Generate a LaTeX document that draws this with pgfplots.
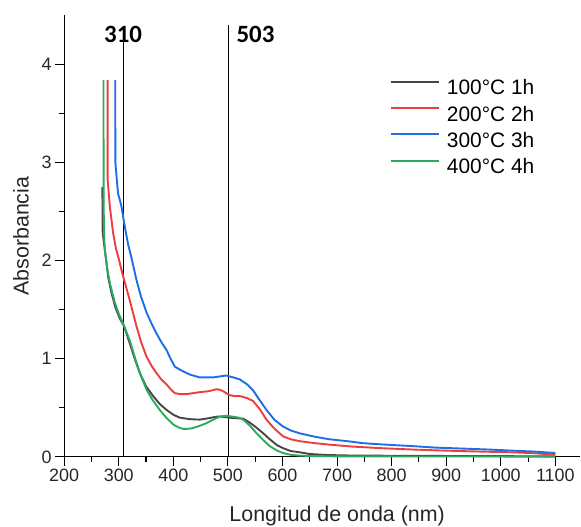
\documentclass[border=0pt]{standalone}
\usepackage{pgfplots}
\pgfplotsset{compat=1.18}
\usepackage{fontspec}
\setmainfont{Liberation Sans}
\newfontfamily\calib{Carlito}
\definecolor{cblack}{RGB}{70,70,70}
\definecolor{cred}{RGB}{240,60,60}
\definecolor{cblue}{RGB}{30,110,230}
\definecolor{cgreen}{RGB}{45,170,95}
\begin{document}
\begin{tikzpicture}
\begin{axis}[
  scale only axis, width=516.7bp, height=442bp,
  xmin=200, xmax=1146, ymin=0, ymax=4.5,
  axis x line*=bottom, axis y line*=left,
  axis line style={-, line width=1.1bp, black},
  xtick={200,300,...,1100}, ytick={0,1,2,3,4},
  minor x tick num=1, minor y tick num=1,
  tick align=outside, major tick length=9bp, minor tick length=5bp,
  tick style={line width=1.1bp, black},
  /pgf/number format/assume math mode=true,
  /pgf/number format/1000 sep={},
  tick label style={font=\fontsize{18}{18}\selectfont, text=black!85},
  xlabel={Longitud de onda (nm)}, ylabel={Absorbancia},
  label style={font=\fontsize{21.5}{21.5}\selectfont, text=black!85, inner sep=0pt},
  xlabel style={at={(axis description cs:0.5287,-0.1337)}, anchor=center},
  ylabel style={at={(axis description cs:-0.0838,0.50)}, anchor=center, rotate=0},
  clip=false,
  every axis plot/.append style={line width=1.9bp},
  legend style={at={(axis cs:796,3.86)}, anchor=north west, draw=none, fill=none,
    font=\fontsize{21}{24}\selectfont, row sep=8.3bp, inner sep=0pt,
    nodes={inner sep=1.5bp, text height=15bp, text depth=0bp}},
  legend cell align=left,
  legend image code/.code={\draw[#1] (0bp,5.5bp) -- (48bp,5.5bp); \path (54bp,5.5bp);},
]
\path (axis cs:82.4,-0.7096) rectangle (axis cs:1146,4.656);
\draw[black, line width=1.1bp] (axis cs:308,0) -- (axis cs:308,4.23);
\draw[black, line width=1.1bp] (axis cs:501,0) -- (axis cs:501,4.40);

\addplot[cblack] coordinates {
(270,2.75) (270.5,2.30) (272,2.22) (274.5,2.11) (277.6,1.97) (281,1.82) (286.8,1.67)
(294,1.52) (302,1.41) (310,1.33) (320,1.16) (330,0.99) (338.6,0.855) (350,0.72)
(363,0.62) (375,0.54) (387.5,0.48) (400,0.43) (412,0.40) (430,0.385) (448.5,0.38)
(465,0.395) (479,0.41) (490,0.41) (503,0.40) (515,0.395) (528,0.39) (540,0.35)
(552,0.30) (565,0.24) (576.7,0.18) (590,0.12) (601,0.09) (615,0.06) (632,0.047)
(650,0.03) (680,0.02) (720,0.015) (800,0.012) (900,0.01) (1000,0.008) (1100,0.006)};
\addlegendentry{100°C 1h}

\addplot[cred] coordinates {
(279.5,3.84) (279.7,2.82) (283.7,2.55) (289.7,2.28) (295,2.12) (299,2.04) (308,1.84)
(320,1.60) (332.6,1.33) (341,1.17) (351,1.02) (360,0.93) (369,0.855) (378,0.79)
(387.5,0.74) (395,0.69) (402.7,0.65) (413,0.64) (424,0.64) (436,0.65) (448.5,0.66)
(465,0.67) (479,0.69) (485,0.685) (491,0.67) (503,0.63) (512,0.62) (522,0.62)
(535,0.60) (546,0.57) (558,0.49) (570.6,0.38) (585,0.29) (601,0.21) (615,0.18)
(632,0.16) (660,0.14) (686,0.125) (730,0.105) (778,0.09) (840,0.075) (900,0.064)
(960,0.055) (1022,0.047) (1060,0.038) (1100,0.023)};
\addlegendentry{200°C 2h}

\addplot[cblue] coordinates {
(293.5,3.84) (293.8,3.0) (296,2.85) (298.8,2.68) (302,2.62) (305,2.55) (311,2.35)
(317,2.17) (323.3,2.03) (332.6,1.80) (341,1.63) (351,1.47) (360,1.36) (369,1.26)
(378,1.17) (387.5,1.09) (395,1.00) (402.7,0.92) (415,0.88) (430,0.84) (448.5,0.81)
(460,0.81) (473,0.81) (485,0.82) (497,0.83) (510,0.81) (521.8,0.79) (535,0.74)
(546,0.68) (558,0.58) (570.6,0.48) (585,0.38) (601,0.31) (615,0.27) (632,0.24)
(660,0.205) (686,0.18) (720,0.16) (747.6,0.14) (790,0.125) (839,0.11) (880,0.095)
(931,0.085) (980,0.075) (1022,0.064) (1060,0.055) (1100,0.04)};
\addlegendentry{300°C 3h}

\addplot[cgreen] coordinates {
(272,3.84) (272.3,2.6) (273,2.3) (274.5,2.11) (279,1.92) (283.7,1.77) (293,1.57)
(300,1.46) (308,1.36) (320,1.19) (332.6,0.96) (341,0.82) (351,0.685) (362,0.58)
(375,0.48) (387,0.40) (400,0.33) (410,0.30) (418,0.285) (430,0.288) (436,0.295)
(450,0.32) (461,0.345) (473,0.38) (485,0.41) (497,0.42) (509.5,0.41) (520,0.40)
(528,0.38) (540,0.32) (552,0.245) (565,0.17) (576.7,0.11) (590,0.065) (601,0.04)
(615,0.022) (632,0.013) (660,0.008) (700,0.006) (800,0.005) (900,0.004) (1000,0.004)
(1100,0.003)};
\addlegendentry{400°C 4h}

\node[font=\calib\bfseries\fontsize{25}{25}\selectfont, inner sep=0pt] at (axis cs:308,4.305) {310};
\node[font=\calib\bfseries\fontsize{25}{25}\selectfont, inner sep=0pt, anchor=west] at (axis cs:515.5,4.305) {503};
\end{axis}
\end{tikzpicture}
\end{document}
